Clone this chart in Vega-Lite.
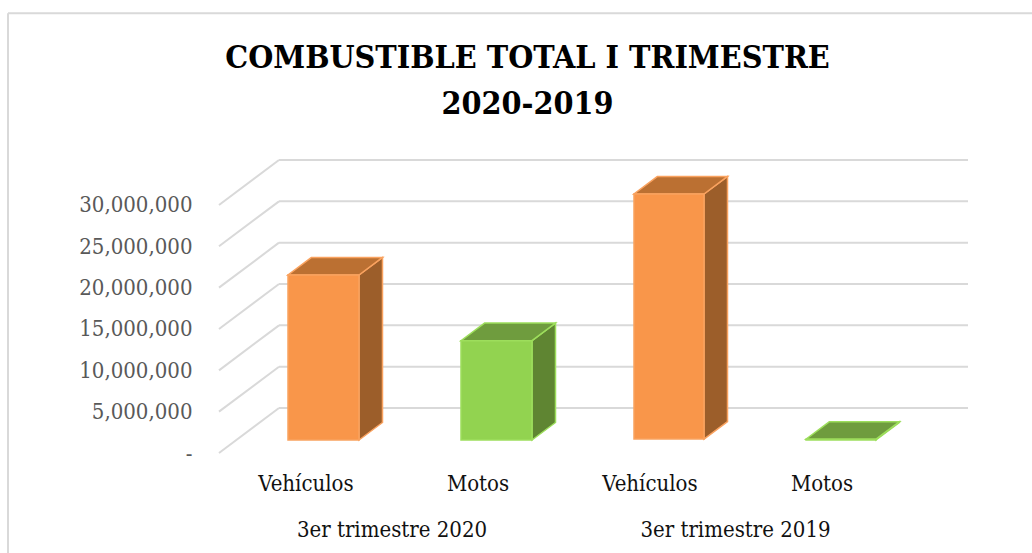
{
"$schema":"https://vega.github.io/schema/vega-lite/v6.json",
"autosize":{"type":"none"},
"padding":{"left":219,"top":160,"right":64,"bottom":100},
"width":749,"height":293,
"background":"white",
"view":{"stroke":null},
"title":{"text":["COMBUSTIBLE TOTAL I TRIMESTRE","2020-2019"],"font":"DejaVu Serif Condensed","fontSize":32,"fontWeight":"bold","color":"#000000","anchor":"middle","frame":"group","dx":-66,"offset":-134,"lineHeight":46,"baseline":"alphabetic"},
"datasets":{
"marco":[
{"x":8,"x2":1032,"y":53.2e6,"y2":53.2e6},
{"x":8,"x2":8,"y":53.2e6,"y2":-12.1e6}
],
"rejilla":[
{"x":219,"x2":279,"y":0,"y2":5.44e6},{"x":219,"x2":279,"y":5e6,"y2":10.44e6},{"x":219,"x2":279,"y":10e6,"y2":15.44e6},{"x":219,"x2":279,"y":15e6,"y2":20.44e6},{"x":219,"x2":279,"y":20e6,"y2":25.44e6},{"x":219,"x2":279,"y":25e6,"y2":30.44e6},{"x":219,"x2":279,"y":30e6,"y2":35.44e6},
{"x":279,"x2":968,"y":5.44e6,"y2":5.44e6},{"x":279,"x2":968,"y":10.44e6,"y2":10.44e6},{"x":279,"x2":968,"y":15.44e6,"y2":15.44e6},{"x":279,"x2":968,"y":20.44e6,"y2":20.44e6},{"x":279,"x2":968,"y":25.44e6,"y2":25.44e6},{"x":279,"x2":968,"y":30.44e6,"y2":30.44e6},{"x":279,"x2":968,"y":35.44e6,"y2":35.44e6}
],
"frente":[
{"serie":"Vehículos","x":288,"x2":359,"y":1.57e6,"y2":21.53e6},
{"serie":"Motos","x":461,"x2":532,"y":1.57e6,"y2":13.59e6},
{"serie":"Vehículos","x":634,"x2":704,"y":1.69e6,"y2":31.33e6},
{"serie":"Motos","x":806,"x2":876,"y":1.57e6,"y2":1.67e6}
],
"lateral":[
{"id":"V20","serie":"Vehículos","x":359,"y":1.57e6,"y2":21.53e6},{"id":"V20","serie":"Vehículos","x":382.5,"y":3.69e6,"y2":23.65e6},
{"id":"M20","serie":"Motos","x":532,"y":1.57e6,"y2":13.59e6},{"id":"M20","serie":"Motos","x":555.5,"y":3.69e6,"y2":15.71e6},
{"id":"V19","serie":"Vehículos","x":704,"y":1.69e6,"y2":31.33e6},{"id":"V19","serie":"Vehículos","x":727.5,"y":3.81e6,"y2":33.45e6},
{"id":"M19","serie":"Motos","x":876,"y":1.57e6,"y2":1.67e6},{"id":"M19","serie":"Motos","x":899.5,"y":3.69e6,"y2":3.79e6}
],
"superior":[
{"id":"V20","serie":"Vehículos","y":21.53e6,"x":288,"x2":359},{"id":"V20","serie":"Vehículos","y":23.65e6,"x":311.5,"x2":382.5},
{"id":"M20","serie":"Motos","y":13.59e6,"x":461,"x2":532},{"id":"M20","serie":"Motos","y":15.71e6,"x":484.5,"x2":555.5},
{"id":"V19","serie":"Vehículos","y":31.33e6,"x":634,"x2":704},{"id":"V19","serie":"Vehículos","y":33.45e6,"x":657.5,"x2":727.5},
{"id":"M19","serie":"Motos","y":1.67e6,"x":806,"x2":876},{"id":"M19","serie":"Motos","y":3.79e6,"x":829.5,"x2":899.5}
],
"etiquetas":[
{"t":"Vehículos","x":306,"y":-3.8e6},{"t":"Motos","x":478,"y":-3.8e6},{"t":"Vehículos","x":650,"y":-3.8e6},{"t":"Motos","x":822,"y":-3.8e6},
{"t":"3er trimestre 2020","x":392,"y":-9.35e6},{"t":"3er trimestre 2019","x":735.5,"y":-9.35e6}
]
},
"encoding":{
"x":{"field":"x","type":"quantitative","scale":{"domain":[219,968],"nice":false,"zero":false},"axis":null},
"y":{"field":"y","type":"quantitative","stack":null,"scale":{"domain":[0,35.44e6],"nice":false,"zero":false},
"axis":{"values":[0,5000000,10000000,15000000,20000000,25000000,30000000],"title":null,"domain":false,"ticks":false,"grid":false,"labelFont":"DejaVu Serif Condensed","labelFontSize":22,"labelColor":"#595959","labelPadding":27,"labelExpr":"datum.value==0?'-':format(datum.value,',')"}}
},
"layer":[
{"data":{"name":"marco"},"mark":{"type":"rule","color":"#d9d9d9","strokeWidth":2,"clip":false},"encoding":{"x2":{"field":"x2"},"y2":{"field":"y2"}}},
{"data":{"name":"rejilla"},"mark":{"type":"rule","color":"#d9d9d9","strokeWidth":2,"clip":false},"encoding":{"x2":{"field":"x2"},"y2":{"field":"y2"}}},
{"data":{"name":"lateral"},"mark":{"type":"area","orient":"vertical","strokeWidth":1.5,"clip":false},"encoding":{"detail":{"field":"id"},"y2":{"field":"y2"},
"fill":{"field":"serie","type":"nominal","legend":null,"scale":{"domain":["Vehículos","Motos"],"range":["#9c5e2a","#5f8532"]}},
"stroke":{"field":"serie","type":"nominal","legend":null,"scale":{"domain":["Vehículos","Motos"],"range":["#f9a25f","#9dde5c"]}}}},
{"data":{"name":"superior"},"mark":{"type":"area","orient":"horizontal","strokeWidth":1.5,"clip":false},"encoding":{"detail":{"field":"id"},"x2":{"field":"x2"},
"fill":{"field":"serie","type":"nominal","legend":null,"scale":{"domain":["Vehículos","Motos"],"range":["#bb7032","#6f9c3e"]}},
"stroke":{"field":"serie","type":"nominal","legend":null,"scale":{"domain":["Vehículos","Motos"],"range":["#f9a25f","#9dde5c"]}}}},
{"data":{"name":"frente"},"mark":{"type":"rect","strokeWidth":1.5,"clip":false},"encoding":{"x2":{"field":"x2"},"y2":{"field":"y2"},
"fill":{"field":"serie","type":"nominal","legend":null,"scale":{"domain":["Vehículos","Motos"],"range":["#f9964a","#92d350"]}},
"stroke":{"field":"serie","type":"nominal","legend":null,"scale":{"domain":["Vehículos","Motos"],"range":["#f9a25f","#9dde5c"]}}}},
{"data":{"name":"etiquetas"},"mark":{"type":"text","font":"DejaVu Serif Condensed","fontSize":22,"color":"#111111","align":"center","baseline":"middle","clip":false},"encoding":{"text":{"field":"t","type":"nominal"}}}
],
"resolve":{"scale":{"fill":"independent","stroke":"independent"}}
}
